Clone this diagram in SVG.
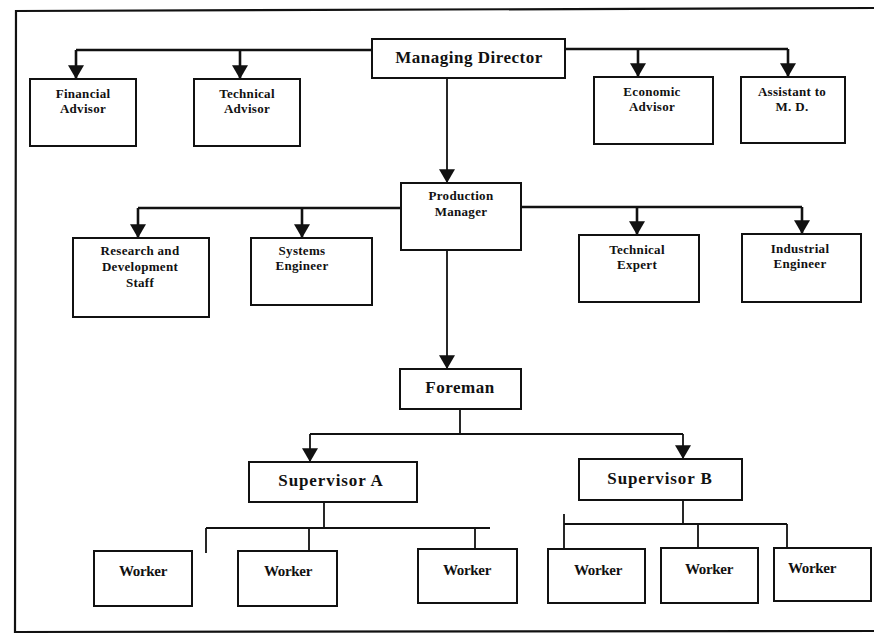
<svg xmlns="http://www.w3.org/2000/svg" width="874" height="635" viewBox="0 0 874 635">
<defs>
<marker id="arr" markerUnits="userSpaceOnUse" markerWidth="16" markerHeight="14" refX="7" refY="12" orient="0" viewBox="0 0 14 12">
<path d="M0,0 L14,0 L7,12 Z" fill="#111"/>
</marker>
<style>
.bx{fill:#fff;stroke:#111;stroke-width:2}
.t{font-family:"Liberation Serif","Times New Roman",serif;font-weight:bold;fill:#111;text-anchor:middle}
.s{font-size:13px;letter-spacing:0.3px}
.m{font-size:17px;letter-spacing:0.5px}
.w{font-size:15px;letter-spacing:-0.3px}
.c{fill:none;stroke:#111;stroke-width:2.6}
.c2{fill:none;stroke:#111;stroke-width:1.8}
.a{marker-end:url(#arr)}
</style>
</defs>
<rect width="874" height="635" fill="#fff"/>
<g id="frame" fill="none" stroke="#111" stroke-width="2.2">
<path d="M874,8 L16,11 L15,632 L874,631"/>
</g>
<g id="connectors">
<path class="c" d="M372,50 H76"/>
<path class="c a" d="M76,50 V79"/>
<path class="c a" d="M240,50 V79"/>
<path class="c" d="M565,49 H788"/>
<path class="c a" d="M788,49 V77"/>
<path class="c a" d="M638,49 V77"/>
<path class="c2 a" d="M447,78 V183"/>
<path class="c" d="M401,208 H138"/>
<path class="c a" d="M138,208 V238"/>
<path class="c a" d="M302,208 V238"/>
<path class="c" d="M521,207 H802"/>
<path class="c a" d="M802,207 V234"/>
<path class="c a" d="M637,207 V235"/>
<path class="c2 a" d="M447,250 V369"/>
<path class="c2" d="M460,409 V434 M310,434 H683"/>
<path class="c2 a" d="M310,434 V462"/>
<path class="c2 a" d="M683,434 V459"/>
<path class="c2" d="M324,502 V528 M206,528 H490 M206,528 V553 M309,528 V551 M475,528 V549"/>
<path class="c2" d="M683,500 V524 M564,524 H787 M564,514 V549 M698,524 V548 M787,524 V548"/>
</g>
<g id="managing-director"><rect class="bx" x="372" y="39" width="193" height="39"/><text class="t m" x="469" y="63">Managing Director</text></g>
<g id="financial-advisor"><rect class="bx" x="30" y="79" width="106" height="67"/><text class="t s" x="83" y="98">Financial</text><text class="t s" x="83" y="113">Advisor</text></g>
<g id="technical-advisor"><rect class="bx" x="194" y="79" width="106" height="67"/><text class="t s" x="247" y="98">Technical</text><text class="t s" x="247" y="113">Advisor</text></g>
<g id="economic-advisor"><rect class="bx" x="594" y="77" width="119" height="67"/><text class="t s" x="652" y="96">Economic</text><text class="t s" x="652" y="111">Advisor</text></g>
<g id="assistant-md"><rect class="bx" x="741" y="77" width="104" height="66"/><text class="t s" x="792" y="96">Assistant to</text><text class="t s" x="792" y="111">M. D.</text></g>
<g id="production-manager"><rect class="bx" x="401" y="183" width="120" height="67"/><text class="t s" x="461" y="200">Production</text><text class="t s" x="461" y="216">Manager</text></g>
<g id="rnd-staff"><rect class="bx" x="73" y="238" width="136" height="79"/><text class="t s" x="140" y="255">Research and</text><text class="t s" x="140" y="271">Development</text><text class="t s" x="140" y="287">Staff</text></g>
<g id="systems-engineer"><rect class="bx" x="251" y="238" width="121" height="67"/><text class="t s" x="302" y="255">Systems</text><text class="t s" x="302" y="270">Engineer</text></g>
<g id="technical-expert"><rect class="bx" x="579" y="235" width="120" height="67"/><text class="t s" x="637" y="254">Technical</text><text class="t s" x="637" y="269">Expert</text></g>
<g id="industrial-engineer"><rect class="bx" x="742" y="234" width="119" height="68"/><text class="t s" x="800" y="253">Industrial</text><text class="t s" x="800" y="268">Engineer</text></g>
<g id="foreman"><rect class="bx" x="400" y="369" width="121" height="40"/><text class="t m" x="460" y="393">Foreman</text></g>
<g id="supervisor-a"><rect class="bx" x="249" y="462" width="168" height="40"/><text class="t m" x="331" y="486" style="letter-spacing:0.9px">Supervisor A</text></g>
<g id="supervisor-b"><rect class="bx" x="579" y="459" width="163" height="41"/><text class="t m" x="660" y="484" style="letter-spacing:0.9px">Supervisor B</text></g>
<g id="worker-1"><rect class="bx" x="94" y="551" width="98" height="55"/><text class="t w" x="143" y="576">Worker</text></g>
<g id="worker-2"><rect class="bx" x="238" y="551" width="99" height="55"/><text class="t w" x="288" y="576">Worker</text></g>
<g id="worker-3"><rect class="bx" x="418" y="549" width="99" height="54"/><text class="t w" x="467" y="575">Worker</text></g>
<g id="worker-4"><rect class="bx" x="548" y="549" width="97" height="54"/><text class="t w" x="598" y="575">Worker</text></g>
<g id="worker-5"><rect class="bx" x="661" y="548" width="97" height="55"/><text class="t w" x="709" y="574">Worker</text></g>
<g id="worker-6"><rect class="bx" x="774" y="548" width="97" height="53"/><text class="t w" x="812" y="573">Worker</text></g>
</svg>
